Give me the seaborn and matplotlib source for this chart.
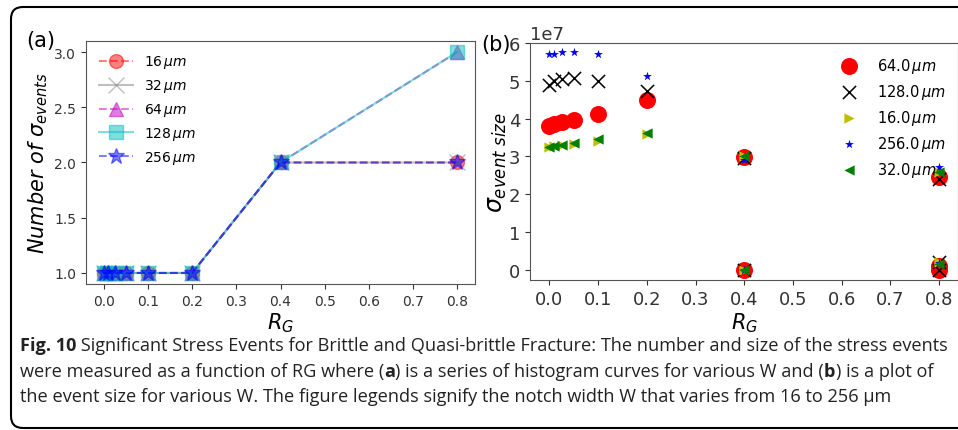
import numpy as np
import pandas as pd
import matplotlib.pyplot as plt
import matplotlib.transforms as mtransforms
from matplotlib.patches import FancyBboxPatch
import seaborn as sns

# panel (a): number of significant stress events vs R_G
rg = [0.0, 0.01, 0.025, 0.05, 0.1, 0.2, 0.4, 0.8]
n_16 = [1, 1, 1, 1, 1, 1, 2, 2]
n_32 = [1, 1, 1, 1, 1, 1, 2, 2]
n_64 = [1, 1, 1, 1, 1, 1, 2, 3]
n_128 = [1, 1, 1, 1, 1, 1, 2, 3]
n_256 = [1, 1, 1, 1, 1, 1, 2, 2]

# panel (b): event size (x 1e7) for each notch width
rg_64 = [0.0, 0.01, 0.025, 0.05, 0.1, 0.2, 0.4, 0.4, 0.8, 0.8, 0.8]
size_64 = [3.80, 3.85, 3.90, 3.95, 4.12, 4.50, 2.98, 0.0, 2.45, 0.10, 0.0]
rg_128 = [0.0, 0.01, 0.025, 0.05, 0.1, 0.2, 0.4, 0.4, 0.8, 0.8, 0.8]
size_128 = [4.88, 5.00, 5.05, 5.07, 5.00, 4.72, 2.95, 0.0, 2.40, 0.20, 0.0]
rg_16 = [0.0, 0.01, 0.025, 0.05, 0.1, 0.2, 0.4, 0.4, 0.8, 0.8]
size_16 = [3.25, 3.27, 3.30, 3.32, 3.42, 3.60, 3.00, 0.0, 2.60, 0.20]
rg_256 = [0.0, 0.01, 0.025, 0.05, 0.1, 0.2, 0.4, 0.4, 0.8, 0.8]
size_256 = [5.72, 5.72, 5.75, 5.75, 5.70, 5.12, 2.90, 0.0, 2.72, 0.18]
rg_32 = [0.0, 0.01, 0.025, 0.05, 0.1, 0.2, 0.4, 0.4, 0.8, 0.8]
size_32 = [3.25, 3.28, 3.30, 3.35, 3.45, 3.63, 3.00, 0.0, 2.60, 0.15]

fig = plt.figure(figsize=(9.58, 4.31), dpi=100)
ax1 = fig.add_axes([0.0898, 0.3387, 0.406, 0.5639])
ax2 = fig.add_axes([0.5532, 0.348, 0.4473, 0.550])

# ---- (a)
lines_a = [
    (n_16, 'r', 'o', '--', 10, '16'),
    (n_32, 'gray', 'x', '-', 11, '32'),
    (n_64, 'm', '^', '--', 10, '64'),
    (n_128, 'c', 's', '-', 10, '128'),
    (n_256, 'b', '*', '--', 12, '256'),
]
for vals, col, mk, ls, ms, lab in lines_a:
    sns.lineplot(x=rg, y=vals, ax=ax1, color=col, marker=mk, linestyle=ls,
                 markersize=ms, alpha=0.5, markeredgecolor=col,
                 markeredgewidth=1, label=lab + r'$\,\mu m$')
ax1.set_xticks(np.arange(0, 0.81, 0.1))
ax1.set_yticks([1.0, 1.5, 2.0, 2.5, 3.0])
ax1.tick_params(labelsize=10, colors='#333333')
ax1.set_xlabel(r'$R_G$', fontsize=15, labelpad=2)
ax1.set_ylabel(r'$Number\ of\ \sigma_{events}$', fontsize=15, labelpad=3)
ax1.legend(loc='upper left', frameon=False, fontsize=10, handlelength=2.5,
           labelspacing=0.5)
for s in ax1.spines.values():
    s.set_color('#555555')

# ---- (b)
pts_b = [
    (rg_64, size_64, 'r', 'o', 150, '64.0'),
    (rg_128, size_128, 'k', 'x', 90, '128.0'),
    (rg_16, size_16, 'y', '>', 55, '16.0'),
    (rg_256, size_256, 'b', '*', 45, '256.0'),
    (rg_32, size_32, 'g', '<', 55, '32.0'),
]
for xs, ys, col, mk, sz, lab in pts_b:
    if mk == 'x':
        sns.scatterplot(x=xs, y=np.array(ys) * 1e7, ax=ax2, color=col, marker=mk,
                        s=sz, linewidth=1.1, label=lab + r'$\,\mu m$')
    else:
        sns.scatterplot(x=xs, y=np.array(ys) * 1e7, ax=ax2, color=col, marker=mk,
                        s=sz, linewidth=0, label=lab + r'$\,\mu m$')
ax2.set_xlim(-0.04, 0.84)
ax2.set_ylim(-0.27e7, 6.0e7)
ax2.set_xticks(np.arange(0, 0.81, 0.1))
ax2.set_yticks(np.arange(0, 6.1e7, 1e7))
ax2.tick_params(labelsize=13, colors='#333333')
ax2.yaxis.get_offset_text().set_fontsize(13)
ax2.set_xlabel(r'$R_G$', fontsize=15, labelpad=2)
ax2.set_ylabel(r'$\sigma_{event\ size}$', fontsize=17, labelpad=0)
ax2.legend(loc='upper right', frameon=False, fontsize=10.5, labelspacing=0.48,
           borderaxespad=0.5, handletextpad=0.9)
for s in ax2.spines.values():
    s.set_color('#555555')

fig.text(26 / 958, 1 - 47 / 431, '(a)', fontsize=15)
fig.text(481 / 958, 1 - 51 / 431, '(b)', fontsize=15)

# rounded frame around the figure (pixel coords)
frame = FancyBboxPatch((11, 2), 1000, 421, boxstyle='round,pad=0,rounding_size=12',
                       transform=mtransforms.IdentityTransform(), fill=False,
                       ec='k', lw=1.5)
fig.add_artist(frame)

# caption
cap_font = ['Liberation Sans Narrow', 'Open Sans', 'DejaVu Sans']
cap_lines = [
    [('Fig. 10', 'bold'),
     (' Significant Stress Events for Brittle and Quasi-brittle Fracture: The number and size of the stress events', 'normal')],
    [('were measured as a function of RG where (', 'normal'), ('a', 'bold'),
     (') is a series of histogram curves for various W and (', 'normal'), ('b', 'bold'),
     (') is a plot of', 'normal')],
    [('the event size for various W. The figure legends signify the notch width W that varies from 16 to 256 \u03bcm', 'normal')],
]
baselines = [351, 377, 402]
renderer = fig.canvas.get_renderer()
W = fig.bbox.width

# fit font size so that the first line spans the same width as the reference
probe = fig.text(0, 0, ''.join(p[0] for p in cap_lines[0]), fontsize=12, family=cap_font)
w12 = probe.get_window_extent(renderer).width
probe.remove()
cap_size = 12 * 925 / w12

for parts, yb in zip(cap_lines, baselines):
    x = 20
    for txt, wt in parts:
        t = fig.text(x / W, 1 - yb / 431, txt, fontsize=cap_size, fontweight=wt,
                     family=cap_font, color='#222222', va='baseline')
        x += t.get_window_extent(renderer).width

fig.savefig('out.png', dpi=100)
